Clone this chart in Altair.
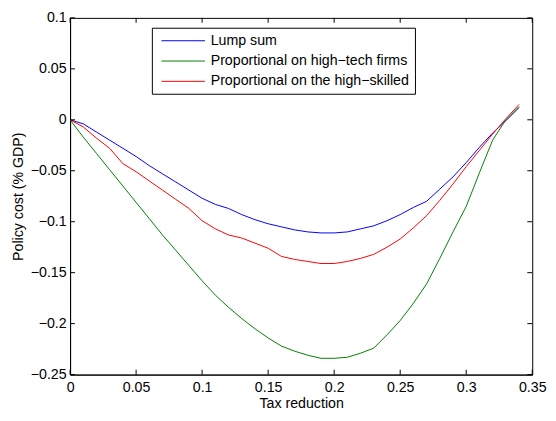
import altair as alt
import pandas as pd

x_vals = [0.00, 0.01, 0.02, 0.03, 0.04, 0.05, 0.06, 0.07, 0.08, 0.09,
          0.10, 0.11, 0.12, 0.13, 0.14, 0.15, 0.16, 0.17, 0.18, 0.19,
          0.20, 0.21, 0.22, 0.23, 0.24, 0.25, 0.26, 0.27, 0.28, 0.29,
          0.30, 0.31, 0.32, 0.33, 0.34]

lump_sum = [0, -0.004, -0.012, -0.020, -0.028, -0.036, -0.045, -0.053, -0.061, -0.069,
            -0.077, -0.083, -0.087, -0.093, -0.098, -0.102, -0.105, -0.108, -0.110, -0.111,
            -0.111, -0.110, -0.107, -0.104, -0.099, -0.093, -0.086, -0.080, -0.068, -0.056,
            -0.042, -0.027, -0.013, -0.001, 0.012]

high_tech = [0, -0.017, -0.033, -0.049, -0.065, -0.081, -0.097, -0.113, -0.128, -0.143,
             -0.158, -0.172, -0.184, -0.195, -0.205, -0.214, -0.222, -0.227, -0.231, -0.234,
             -0.234, -0.233, -0.229, -0.224, -0.211, -0.197, -0.180, -0.161, -0.136, -0.110,
             -0.085, -0.052, -0.020, 0.000, 0.013]

high_skilled = [0, -0.007, -0.018, -0.028, -0.043, -0.051, -0.060, -0.069, -0.078, -0.087,
                -0.099, -0.107, -0.113, -0.116, -0.121, -0.126, -0.134, -0.137, -0.139, -0.141,
                -0.141, -0.139, -0.136, -0.132, -0.125, -0.117, -0.106, -0.094, -0.079, -0.063,
                -0.046, -0.030, -0.014, 0.001, 0.015]

series_names = ["Lump sum", "Proportional on high\u2212tech firms", "Proportional on the high\u2212skilled"]
series_colors = ["#0000ff", "#008000", "#ff0000"]

x_ticks = [0, 0.05, 0.1, 0.15, 0.2, 0.25, 0.3, 0.35]
y_ticks = [-0.25, -0.2, -0.15, -0.1, -0.05, 0, 0.05, 0.1]

FONT = "Liberation Sans"
FS = 14.4
W, H = 469, 362
TICK = 5

rows = []
for name, vals in zip(series_names, [lump_sum, high_tech, high_skilled]):
    for xv, yv in zip(x_vals, vals):
        rows.append({"x": xv, "y": yv, "series": name})
df = pd.DataFrame(rows)

xscale = alt.Scale(domain=[0, 0.35], nice=False, zero=False)
yscale = alt.Scale(domain=[-0.25, 0.1], nice=False, zero=False)

x_axis = alt.Axis(values=x_ticks, format="~g", ticks=False, tickSize=0,
                  labelPadding=6, grid=False, domainColor="black",
                  labelFont=FONT, labelFontSize=FS, labelColor="black",
                  title="Tax reduction", titleFont=FONT, titleFontSize=FS,
                  titleFontWeight="normal", titleColor="black", titlePadding=3,
                  labelFlush=False)
y_axis = alt.Axis(values=y_ticks, format="~g", ticks=False, tickSize=0,
                  labelPadding=4, grid=False, domainColor="black",
                  labelFont=FONT, labelFontSize=FS, labelColor="black",
                  title="Policy cost (% GDP)", titleFont=FONT, titleFontSize=FS,
                  titleFontWeight="normal", titleColor="black", titlePadding=5,
                  labelFlush=False)

lines = alt.Chart(df).mark_line(strokeWidth=1, clip=True).encode(
    x=alt.X("x:Q", scale=xscale, axis=x_axis),
    y=alt.Y("y:Q", scale=yscale, axis=y_axis),
    color=alt.Color("series:N",
                    scale=alt.Scale(domain=series_names, range=series_colors),
                    sort=series_names,
                    legend=alt.Legend(orient="none", legendX=83, legendY=10, title=None,
                                      symbolType="M-3.4,0H3.4", symbolSize=169,
                                      symbolStrokeWidth=1, symbolOffset=18.6,
                                      labelFont=FONT,
                                      labelFontSize=FS, labelColor="black",
                                      labelOffset=20.7, labelLimit=0, strokeColor="black",
                                      fillColor="white", padding=6, rowPadding=5.6,
                                      cornerRadius=0)),
    order=alt.Order("x:Q"),
)

xt = pd.DataFrame({"v": x_ticks})
yt = pd.DataFrame({"v": y_ticks})

bottom_ticks = alt.Chart(xt).mark_rule(color="black", strokeWidth=1).encode(
    x=alt.X("v:Q", scale=xscale, axis=x_axis), y=alt.value(H), y2=alt.value(H - TICK))
top_ticks = alt.Chart(xt).mark_rule(color="black", strokeWidth=1).encode(
    x=alt.X("v:Q", scale=xscale, axis=x_axis), y=alt.value(0), y2=alt.value(TICK))
left_ticks = alt.Chart(yt).mark_rule(color="black", strokeWidth=1).encode(
    y=alt.Y("v:Q", scale=yscale, axis=y_axis), x=alt.value(0), x2=alt.value(TICK))
right_ticks = alt.Chart(yt).mark_rule(color="black", strokeWidth=1).encode(
    y=alt.Y("v:Q", scale=yscale, axis=y_axis), x=alt.value(W - TICK), x2=alt.value(W))

chart = alt.layer(lines, bottom_ticks, top_ticks, left_ticks, right_ticks).properties(
    width=W, height=H,
    autosize=alt.AutoSizeParams(type="none"),
    padding={"left": 63, "top": 7, "right": 16, "bottom": 40},
).configure_view(stroke="black", strokeWidth=1).configure_axis(domainWidth=1)

chart.save("out.html", embed_options={"renderer": "svg", "actions": False})
